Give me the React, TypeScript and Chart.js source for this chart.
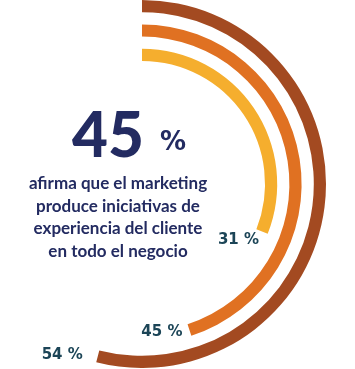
import React, { useEffect, useRef } from "react";
import { Chart, registerables } from "chart.js";

Chart.register(...registerables);

const ringLabels = ["54 %", "45 %", "31 %"];
const ringValues = [54, 45, 31];
const ringColors = ["#A34A21", "#E07122", "#F5AE2E"];
const headline = "45";
const headlineUnit = "%";
const captionLines = [
  "afirma que el marketing",
  "produce iniciativas de",
  "experiencia del cliente",
  "en todo el negocio",
];

const labelOffsets = [
  [-15, -1],
  [-7, 2],
  [-3, 9],
];

const ringLabelPlugin = {
  id: "ringLabels",
  afterDatasetsDraw(chart: any) {
    const ctx = chart.ctx;
    ctx.save();
    ctx.font = "bold 15px 'DejaVu Sans'";
    ctx.fillStyle = "#1C4557";
    ctx.textAlign = "right";
    ctx.textBaseline = "middle";
    ringValues.forEach((_, i) => {
      const meta = chart.getDatasetMeta(i * 2);
      const arc: any = meta.data[0];
      if (!arc) return;
      const r = (arc.innerRadius + arc.outerRadius) / 2;
      const x = arc.x + Math.cos(arc.endAngle) * r;
      const y = arc.y + Math.sin(arc.endAngle) * r;
      ctx.fillText(ringLabels[i], x + labelOffsets[i][0], y + labelOffsets[i][1]);
    });
    ctx.restore();
  },
};

export default function App() {
  const canvasRef = useRef<HTMLCanvasElement | null>(null);

  useEffect(() => {
    if (!canvasRef.current) return;
    const datasets: any[] = [];
    ringValues.forEach((v, i) => {
      if (i > 0) {
        datasets.push({
          data: [100],
          backgroundColor: ["rgba(0,0,0,0)"],
          borderWidth: 0,
          hoverBackgroundColor: ["rgba(0,0,0,0)"],
        });
      }
      datasets.push({
        data: [v, 100 - v],
        backgroundColor: [ringColors[i], "rgba(0,0,0,0)"],
        hoverBackgroundColor: [ringColors[i], "rgba(0,0,0,0)"],
        borderWidth: 0,
      });
    });
    const chart = new Chart(canvasRef.current, {
      type: "doughnut",
      data: { labels: ["valor", "resto"], datasets },
      options: {
        responsive: false,
        animation: false,
        cutout: "66.85%",
        rotation: 0,
        circumference: 360,
        layout: { padding: 0 },
        plugins: {
          legend: { display: false },
          tooltip: { enabled: false },
        },
        events: [],
      },
      plugins: [ringLabelPlugin],
    });
    return () => chart.destroy();
  }, []);

  return (
    <div
      style={{
        position: "fixed",
        left: 0,
        top: 0,
        width: 355,
        height: 369,
        overflow: "hidden",
        background: "#ffffff",
      }}
    >
      <canvas
        ref={canvasRef}
        width={368}
        height={368}
        style={{ position: "absolute", left: -42, top: 0, width: 368, height: 368 }}
      />
      <div
        style={{
          position: "absolute",
          left: 72,
          top: 96,
          fontFamily: "Lato",
          fontWeight: 900,
          fontSize: 62,
          lineHeight: "74px",
          color: "#232B61",
          whiteSpace: "nowrap",
        }}
      >
        {headline}
        <span
          style={{
            fontFamily: "'DejaVu Sans'",
            fontSize: 26,
            fontWeight: 700,
            marginLeft: 16,
            position: "relative",
            top: -7,
          }}
        >
          {headlineUnit}
        </span>
      </div>
      <div
        style={{
          position: "absolute",
          left: 18,
          width: 200,
          top: 172,
          fontFamily: "Lato",
          fontWeight: 700,
          fontSize: 17,
          lineHeight: "22.5px",
          color: "#232B61",
          textAlign: "center",
          whiteSpace: "nowrap",
        }}
      >
        {captionLines.map((l, i) => (
          <div key={i}>{l}</div>
        ))}
      </div>
    </div>
  );
}
